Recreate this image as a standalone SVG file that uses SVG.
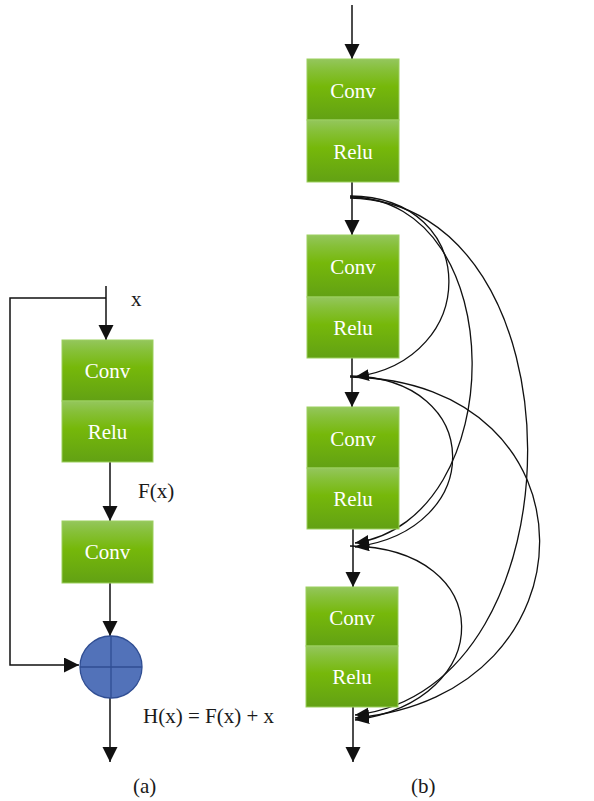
<svg xmlns="http://www.w3.org/2000/svg" width="594" height="801" viewBox="0 0 594 801">
<style>
  .box { fill: url(#g); stroke: #9ccf5e; stroke-width: 1; }
  .bt { font-family: "Liberation Serif", "Times New Roman", serif; font-size: 21px; fill: #ffffff; text-anchor: middle; }
  .lb { font-family: "Liberation Serif", "Times New Roman", serif; font-size: 21px; fill: #1a1a1a; }
  .ln { fill: none; stroke: #111111; stroke-width: 1.5; }
  .cv { fill: none; stroke: #111111; stroke-width: 1.3; }
</style>
<defs>
  <linearGradient id="g" x1="0" y1="0" x2="0" y2="1">
    <stop offset="0" stop-color="#94c65d"/>
    <stop offset="0.18" stop-color="#86c038"/>
    <stop offset="0.45" stop-color="#76b80a"/>
    <stop offset="1" stop-color="#62a114"/>
  </linearGradient>
  <marker id="a" markerUnits="userSpaceOnUse" markerWidth="16" markerHeight="16" refX="15" refY="7.5" orient="auto">
    <path d="M0,0 L15,7.5 L0,15 z" fill="#111111"/>
  </marker>
  <marker id="s" markerUnits="userSpaceOnUse" markerWidth="15" markerHeight="13" refX="14" refY="6" orient="auto">
    <path d="M0,0 L14,6 L0,12 z" fill="#111111"/>
  </marker>
</defs>
<rect width="594" height="801" fill="#ffffff"/>

<g id="connectors">
  <!-- (a) -->
  <path class="ln" d="M106,286 V340" marker-end="url(#a)"/>
  <path class="ln" d="M106,298 H10 V665 H79" marker-end="url(#a)"/>
  <path class="ln" d="M110,462 V521" marker-end="url(#a)"/>
  <path class="ln" d="M110,583 V636" marker-end="url(#a)"/>
  <path class="ln" d="M110,698 V762" marker-end="url(#a)"/>
  <!-- (b) main -->
  <path class="ln" d="M352,5 V59" marker-end="url(#a)"/>
  <path class="ln" d="M352,182 V235" marker-end="url(#a)"/>
  <path class="ln" d="M352,358 V407" marker-end="url(#a)"/>
  <path class="ln" d="M353,529 V587" marker-end="url(#a)"/>
  <path class="ln" d="M353,707 V762" marker-end="url(#a)"/>
  <!-- (b) dense skip connections -->
  <path class="cv" d="M350,196 C481,197 481,360 355,377" marker-end="url(#s)"/>
  <path class="cv" d="M350,197 C512,199 512,520 355,543" marker-end="url(#s)"/>
  <path class="cv" d="M350,198 C586,202 586,690 355,715" marker-end="url(#s)"/>
  <path class="cv" d="M350,376 C486,378 486,530 355,547" marker-end="url(#s)"/>
  <path class="cv" d="M350,377 C602,381 602,695 355,718" marker-end="url(#s)"/>
  <path class="cv" d="M350,546 C498,548 498,700 355,720" marker-end="url(#s)"/>
</g>

<g id="a-conv1">
  <rect class="box" x="62" y="340" width="91" height="61"/>
  <text class="bt" x="107.5" y="378">Conv</text>
</g>
<g id="a-relu1">
  <rect class="box" x="62" y="401" width="91" height="61"/>
  <text class="bt" x="107.5" y="439">Relu</text>
</g>
<g id="a-conv2">
  <rect class="box" x="62" y="521" width="91" height="62"/>
  <text class="bt" x="107.5" y="559">Conv</text>
</g>
<g id="a-sum">
  <circle cx="111" cy="667" r="31" fill="#5272b9" stroke="#304e93" stroke-width="1.3"/>
  <path d="M111,636 V698 M80,667 H142" stroke="#304e93" stroke-width="1.3"/>
</g>
<g id="a-labels">
  <text class="lb" x="131" y="306">x</text>
  <text class="lb" x="138" y="498">F(x)</text>
  <text class="lb" x="143" y="723">H(x) = F(x) + x</text>
  <text class="lb" x="133" y="793">(a)</text>
</g>

<g id="b-conv1">
  <rect class="box" x="307" y="59" width="92" height="61"/>
  <text class="bt" x="353" y="98">Conv</text>
</g>
<g id="b-relu1">
  <rect class="box" x="307" y="120" width="92" height="62"/>
  <text class="bt" x="353" y="159">Relu</text>
</g>
<g id="b-conv2">
  <rect class="box" x="307" y="235" width="92" height="62"/>
  <text class="bt" x="353" y="274">Conv</text>
</g>
<g id="b-relu2">
  <rect class="box" x="307" y="297" width="92" height="61"/>
  <text class="bt" x="353" y="335">Relu</text>
</g>
<g id="b-conv3">
  <rect class="box" x="307" y="407" width="92" height="61"/>
  <text class="bt" x="353" y="446">Conv</text>
</g>
<g id="b-relu3">
  <rect class="box" x="307" y="468" width="92" height="61"/>
  <text class="bt" x="353" y="506">Relu</text>
</g>
<g id="b-conv4">
  <rect class="box" x="306" y="587" width="92" height="59"/>
  <text class="bt" x="352" y="625">Conv</text>
</g>
<g id="b-relu4">
  <rect class="box" x="306" y="646" width="92" height="61"/>
  <text class="bt" x="352" y="684">Relu</text>
</g>
<g id="b-labels">
  <text class="lb" x="411" y="793">(b)</text>
</g>
</svg>
